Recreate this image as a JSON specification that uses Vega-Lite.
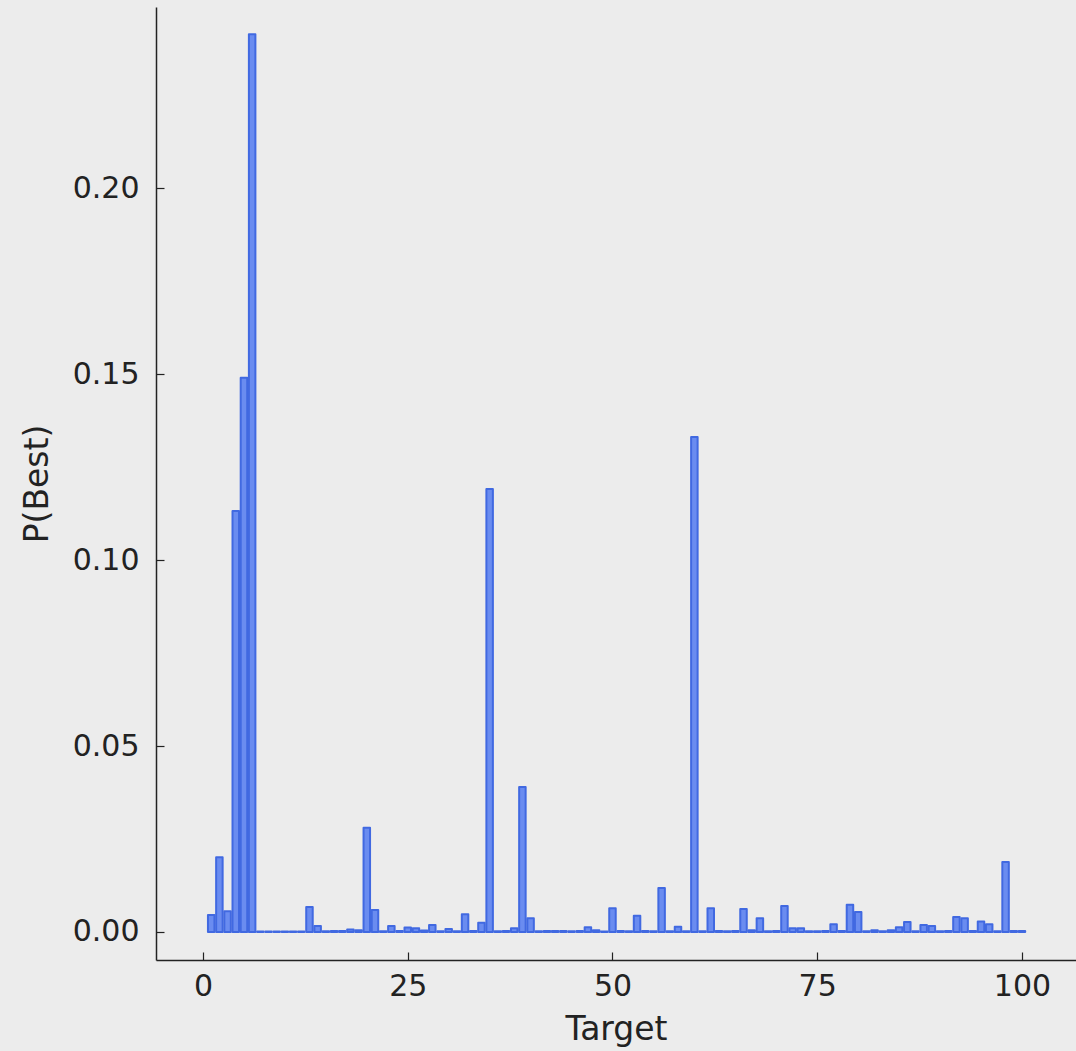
{
  "$schema": "https://vega.github.io/schema/vega-lite/v6.json",
  "autosize": {"type": "none"},
  "width": 920,
  "height": 953,
  "padding": {"left": 156, "top": 7, "right": 0, "bottom": 91},
  "background": "#ececec",
  "config": {
    "view": {"stroke": null, "fill": "#ececec"},
    "font": "DejaVu Sans",
    "axis": {
      "grid": false,
      "domainColor": "#222222",
      "domainWidth": 1.5,
      "tickColor": "#222222",
      "tickWidth": 1.2,
      "tickSize": -8,
      "labelColor": "#222222",
      "titleColor": "#222222",
      "labelFontSize": 30,
      "titleFontSize": 33,
      "labelFont": "DejaVu Sans",
      "titleFont": "DejaVu Sans",
      "titleFontWeight": "normal"
    }
  },
  "data": {"values": [
    {"target": 1, "p": 0.0046}, {"target": 2, "p": 0.0201}, {"target": 3, "p": 0.0056}, {"target": 4, "p": 0.1132}, {"target": 5, "p": 0.149},
    {"target": 6, "p": 0.2414}, {"target": 7, "p": 0.0001}, {"target": 8, "p": 0.0001}, {"target": 9, "p": 0.0001}, {"target": 10, "p": 0.0001},
    {"target": 11, "p": 0.0001}, {"target": 12, "p": 0.0001}, {"target": 13, "p": 0.0067}, {"target": 14, "p": 0.0016}, {"target": 15, "p": 0.0002},
    {"target": 16, "p": 0.0003}, {"target": 17, "p": 0.0003}, {"target": 18, "p": 0.0007}, {"target": 19, "p": 0.0005}, {"target": 20, "p": 0.028},
    {"target": 21, "p": 0.0059}, {"target": 22, "p": 0.0002}, {"target": 23, "p": 0.0016}, {"target": 24, "p": 0.0003}, {"target": 25, "p": 0.0012},
    {"target": 26, "p": 0.001}, {"target": 27, "p": 0.0004}, {"target": 28, "p": 0.0019}, {"target": 29, "p": 0.0002}, {"target": 30, "p": 0.0008},
    {"target": 31, "p": 0.0002}, {"target": 32, "p": 0.0048}, {"target": 33, "p": 0.0003}, {"target": 34, "p": 0.0025}, {"target": 35, "p": 0.1191},
    {"target": 36, "p": 0.0002}, {"target": 37, "p": 0.0003}, {"target": 38, "p": 0.001}, {"target": 39, "p": 0.039}, {"target": 40, "p": 0.0037},
    {"target": 41, "p": 0.0002}, {"target": 42, "p": 0.0003}, {"target": 43, "p": 0.0003}, {"target": 44, "p": 0.0003}, {"target": 45, "p": 0.0002},
    {"target": 46, "p": 0.0003}, {"target": 47, "p": 0.0013}, {"target": 48, "p": 0.0005}, {"target": 49, "p": 0.0001}, {"target": 50, "p": 0.0064},
    {"target": 51, "p": 0.0003}, {"target": 52, "p": 0.0002}, {"target": 53, "p": 0.0044}, {"target": 54, "p": 0.0003}, {"target": 55, "p": 0.0002},
    {"target": 56, "p": 0.0118}, {"target": 57, "p": 0.0002}, {"target": 58, "p": 0.0014}, {"target": 59, "p": 0.0002}, {"target": 60, "p": 0.1331},
    {"target": 61, "p": 0.0002}, {"target": 62, "p": 0.0064}, {"target": 63, "p": 0.0003}, {"target": 64, "p": 0.0002}, {"target": 65, "p": 0.0003},
    {"target": 66, "p": 0.0062}, {"target": 67, "p": 0.0005}, {"target": 68, "p": 0.0037}, {"target": 69, "p": 0.0002}, {"target": 70, "p": 0.0003},
    {"target": 71, "p": 0.007}, {"target": 72, "p": 0.001}, {"target": 73, "p": 0.001}, {"target": 74, "p": 0.0002}, {"target": 75, "p": 0.0002},
    {"target": 76, "p": 0.0003}, {"target": 77, "p": 0.0021}, {"target": 78, "p": 0.0003}, {"target": 79, "p": 0.0073}, {"target": 80, "p": 0.0054},
    {"target": 81, "p": 0.0002}, {"target": 82, "p": 0.0005}, {"target": 83, "p": 0.0002}, {"target": 84, "p": 0.0005}, {"target": 85, "p": 0.0013},
    {"target": 86, "p": 0.0027}, {"target": 87, "p": 0.0002}, {"target": 88, "p": 0.0019}, {"target": 89, "p": 0.0016}, {"target": 90, "p": 0.0002},
    {"target": 91, "p": 0.0003}, {"target": 92, "p": 0.004}, {"target": 93, "p": 0.0037}, {"target": 94, "p": 0.0003}, {"target": 95, "p": 0.0028},
    {"target": 96, "p": 0.0021}, {"target": 97, "p": 0.0002}, {"target": 98, "p": 0.0188}, {"target": 99, "p": 0.0003}, {"target": 100, "p": 0.0003}
  ]},
  "mark": {
    "type": "bar",
    "size": 6.5,
    "fill": "#6a8cf0",
    "stroke": "#4169e1",
    "strokeWidth": 2,
    "strokeJoin": "round",
    "clip": true
  },
  "encoding": {
    "x": {
      "field": "target",
      "type": "quantitative",
      "scale": {"domain": [-5.74, 106.6], "nice": false, "zero": false, "padding": 0},
      "axis": {
        "title": "Target",
        "values": [0, 25, 50, 75, 100],
        "format": "d",
        "labelPadding": 19,
        "titlePadding": 12
      }
    },
    "y": {
      "field": "p",
      "type": "quantitative",
      "scale": {"domain": [-0.00753, 0.2487], "nice": false, "zero": false, "padding": 0},
      "axis": {
        "title": "P(Best)",
        "values": [0, 0.05, 0.1, 0.15, 0.2],
        "format": ".2f",
        "labelPadding": 25,
        "titlePadding": 18
      }
    }
  }
}
